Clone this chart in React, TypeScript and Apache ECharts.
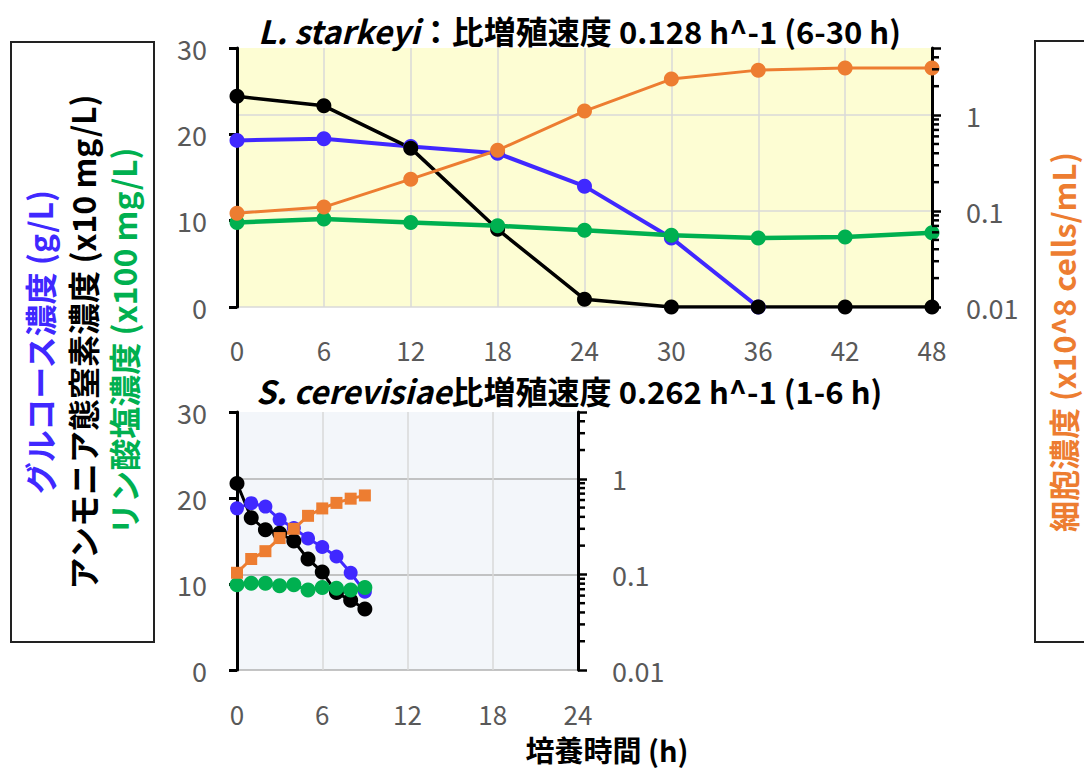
import React, { useEffect, useRef } from "react";
import * as echarts from "echarts";

const FONT = '"Noto Sans CJK JP", "Noto Sans", sans-serif';

// Top chart (L. starkeyi)
const TOP_X_TICKS = [0, 6, 12, 18, 24, 30, 36, 42, 48];
const TOP_HOURS = [0, 6, 12, 18, 24, 30, 36, 42, 48];
const TOP_GLUCOSE = [19.3, 19.5, 18.6, 17.8, 14.0, 8.0, 0];
const TOP_AMMONIA = [24.4, 23.3, 18.4, 9.0, 0.9, 0, 0, 0, 0];
const TOP_PHOSPHATE = [9.8, 10.2, 9.8, 9.4, 8.9, 8.3, 8.0, 8.1, 8.6];
const TOP_CELLS = [0.095, 0.11, 0.215, 0.43, 1.1, 2.37, 2.94, 3.1, 3.1];

// Bottom chart (S. cerevisiae)
const BOT_X_TICKS = [0, 6, 12, 18, 24];
const BOT_HOURS = [0, 1, 2, 3, 4, 5, 6, 7, 8, 9];
const BOT_GLUCOSE = [18.8, 19.4, 19.0, 17.5, 16.5, 15.3, 14.3, 13.2, 11.3, 9.1];
const BOT_AMMONIA = [21.7, 17.7, 16.3, 15.9, 15.0, 12.9, 11.4, 9.0, 8.1, 7.1];
const BOT_PHOSPHATE = [9.9, 10.1, 10.1, 9.8, 9.9, 9.3, 9.6, 9.5, 9.3, 9.6];
const BOT_CELLS = [0.104, 0.145, 0.175, 0.24, 0.3, 0.41, 0.49, 0.56, 0.62, 0.67];

const LOG_LABELS = ["0.01", "0.1", "1"];
const LOG_MIN = 0.01;
const LOG_MAX = 5;
const LOG_MINOR = [0.02, 0.03, 0.04, 0.05, 0.06, 0.07, 0.08, 0.09, 0.2, 0.3, 0.4, 0.5, 0.6, 0.7, 0.8, 0.9, 2, 3, 4];

const C_BLUE = "#4028ff";
const C_BLACK = "#000000";
const C_GREEN = "#00b050";
const C_ORANGE = "#ed7d31";
const C_LABEL = "#595959";

const pair = (xs: number[], ys: number[]) => ys.map((y, i) => [xs[i], y]);

export default function App() {
  const ref = useRef<HTMLDivElement>(null);
  useEffect(() => {
    if (!ref.current) return;
    const chart = echarts.init(ref.current, null, { renderer: "svg" });

    const grids = [
      { left: 237, top: 48, width: 695, height: 259, bg: "#fdfdd3", hGrid: "#d9d9d9" },
      { left: 237, top: 412, width: 341, height: 258, bg: "#f3f6fa", hGrid: "#b0b0b0" },
    ];
    const xTicks = [TOP_X_TICKS, BOT_X_TICKS];

    const logFormatter = (v: number) => {
      const l = Math.log10(v);
      const r = Math.round(l);
      if (Math.abs(l - r) < 1e-6 && r >= -2 && r <= 0) return LOG_LABELS[r + 2];
      return "";
    };

    const xAxis: any[] = grids.map((g, i) => ({
      type: "value",
      gridIndex: i,
      min: xTicks[i][0],
      max: xTicks[i][xTicks[i].length - 1],
      interval: 6,
      axisLine: { show: false },
      axisTick: { show: false },
      axisLabel: { color: C_LABEL, fontSize: 26, fontFamily: FONT, margin: i === 0 ? 30 : 31, lineHeight: 24 },
      splitLine: { show: true, lineStyle: { color: "#d9d9d9", width: 1.5 } },
    }));

    const yAxis: any[] = [];
    grids.forEach((g, i) => {
      yAxis.push({
        type: "value",
        gridIndex: i,
        position: "left",
        min: 0,
        max: 30,
        interval: 10,
        axisLine: { show: true, lineStyle: { color: "#000", width: 3 } },
        axisTick: { show: true, inside: false, length: 8, lineStyle: { color: "#000", width: 3 } },
        axisLabel: { color: C_LABEL, fontSize: 27, fontFamily: FONT, margin: 30 },
        splitLine: { show: false },
      });
      yAxis.push({
        type: "log",
        logBase: 10,
        gridIndex: i,
        position: "right",
        min: LOG_MIN,
        max: LOG_MAX,
        axisLine: { show: true, lineStyle: { color: "#000", width: 3 } },
        axisTick: { show: true, inside: false, length: 9, lineStyle: { color: "#000", width: 2.5 } },
        axisLabel: { color: C_LABEL, fontSize: 27, fontFamily: FONT, margin: 34, formatter: logFormatter },
        splitLine: {
          show: true,
          lineStyle: { color: [g.hGrid, g.hGrid, g.hGrid, "rgba(0,0,0,0)"], width: 1.5 },
        },
      });
    });

    const lineSeries = (
      name: string,
      gi: number,
      yIdx: number,
      data: number[][],
      color: string,
      width: number,
      symbol: string,
      size: number
    ) => ({
      name,
      type: "line",
      xAxisIndex: gi,
      yAxisIndex: yIdx,
      data,
      symbol,
      symbolSize: size,
      showSymbol: true,
      lineStyle: { color, width },
      itemStyle: { color },
      z: 3,
    });

    const minorTicks = (gi: number, xMax: number) => ({
      type: "custom",
      xAxisIndex: gi,
      yAxisIndex: gi * 2 + 1,
      silent: true,
      clip: false,
      z: 10,
      data: LOG_MINOR.map((v) => [xMax, v]),
      renderItem: (params: any, api: any) => {
        const p = api.coord([api.value(0), api.value(1)]);
        return {
          type: "line",
          shape: { x1: p[0], y1: p[1], x2: p[0] + 7, y2: p[1] },
          style: { stroke: "#000", lineWidth: 2.5 },
        };
      },
    });

    const series: any[] = [
      lineSeries("glucose-top", 0, 0, pair(TOP_HOURS, TOP_GLUCOSE), C_BLUE, 4, "circle", 15),
      lineSeries("ammonia-top", 0, 0, pair(TOP_HOURS, TOP_AMMONIA), C_BLACK, 3.5, "circle", 15),
      lineSeries("phosphate-top", 0, 0, pair(TOP_HOURS, TOP_PHOSPHATE), C_GREEN, 4.5, "circle", 15),
      lineSeries("cells-top", 0, 1, pair(TOP_HOURS, TOP_CELLS), C_ORANGE, 3, "circle", 15),
      lineSeries("glucose-bot", 1, 2, pair(BOT_HOURS, BOT_GLUCOSE), C_BLUE, 3, "circle", 14),
      lineSeries("ammonia-bot", 1, 2, pair(BOT_HOURS, BOT_AMMONIA), C_BLACK, 3, "circle", 15),
      lineSeries("phosphate-bot", 1, 2, pair(BOT_HOURS, BOT_PHOSPHATE), C_GREEN, 3, "circle", 15),
      lineSeries("cells-bot", 1, 3, pair(BOT_HOURS, BOT_CELLS), C_ORANGE, 3, "rect", 12),
      minorTicks(0, TOP_X_TICKS[TOP_X_TICKS.length - 1]),
      minorTicks(1, BOT_X_TICKS[BOT_X_TICKS.length - 1]),
    ];

    const richTitle = {
      a: { fontFamily: FONT, fontSize: 32, fontWeight: "bold", fontStyle: "italic", color: "#000", lineHeight: 28 },
      b: { fontFamily: FONT, fontSize: 32, fontWeight: "bold", color: "#000", lineHeight: 28 },
      c: { fontFamily: FONT, fontSize: 31, fontWeight: "bold", color: "#000", lineHeight: 28 },
    };

    const rotText = (text: string, x: number, y: number, fill: string, size: number) => ({
      type: "text",
      x,
      y,
      rotation: Math.PI / 2,
      style: {
        text,
        fill,
        font: `bold ${size}px ${FONT}`,
        align: "center",
        verticalAlign: "middle",
      },
    });

    chart.setOption({
      animation: false,
      backgroundColor: "#ffffff",
      title: [
        {
          left: 258,
          top: 16,
          padding: 0,
          text: "{a|L. starkeyi}{b|：比増殖速度 }{c|0.128 h^-1 (6-30 h)}",
          textStyle: { rich: richTitle },
        },
        {
          left: 256,
          top: 376,
          padding: 0,
          text: "{a|S. cerevisiae}{b|比増殖速度 }{c|0.262 h^-1 (1-6 h)}",
          textStyle: { rich: richTitle },
        },
      ],
      grid: grids.map((g) => ({
        left: g.left,
        top: g.top,
        width: g.width,
        height: g.height,
        show: true,
        backgroundColor: g.bg,
        borderWidth: 0,
        containLabel: false,
      })),
      xAxis,
      yAxis,
      series,
      graphic: [
        {
          type: "rect",
          shape: { x: 11, y: 42, width: 143, height: 600 },
          style: { fill: "none", stroke: "#222", lineWidth: 2 },
        },
        rotText("グルコース濃度 (g/L)", 39, 342, C_BLUE, 32),
        rotText("アンモニア態窒素濃度 (x10 mg/L)", 82, 342, C_BLACK, 32),
        rotText("リン酸塩濃度 (x100 mg/L)", 123, 341, C_GREEN, 32),
        {
          type: "rect",
          shape: { x: 1035, y: 41, width: 80, height: 601 },
          style: { fill: "none", stroke: "#222", lineWidth: 2 },
        },
        rotText("細胞濃度 (x10^8 cells/mL)", 1062, 342, C_ORANGE, 31),
        {
          type: "text",
          x: 607,
          y: 749,
          style: {
            text: "培養時間 (h)",
            fill: "#000",
            font: `bold 29px ${FONT}`,
            lineHeight: 26,
            align: "center",
            verticalAlign: "middle",
          },
        },
      ],
    });

    return () => chart.dispose();
  }, []);

  return (
    <div
      ref={ref}
      style={{ position: "fixed", left: 0, top: 0, width: 1084, height: 769, background: "#fff" }}
    />
  );
}
